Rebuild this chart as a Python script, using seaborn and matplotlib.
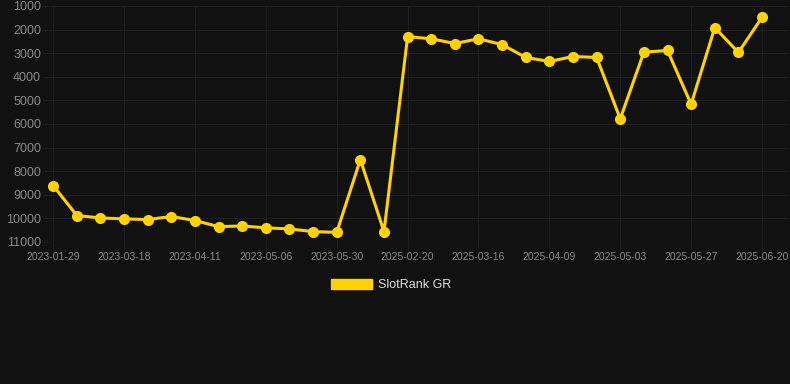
import matplotlib
matplotlib.use("Agg")
import matplotlib.pyplot as plt
from matplotlib.patches import Patch
import seaborn as sns
import pandas as pd

dates = ["2023-01-29", "2023-02-13", "2023-03-03", "2023-03-18", "2023-03-26", "2023-04-03",
         "2023-04-11", "2023-04-19", "2023-04-27", "2023-05-06", "2023-05-14", "2023-05-22",
         "2023-05-30", "2023-06-07", "2025-02-12", "2025-02-20", "2025-02-28", "2025-03-08",
         "2025-03-16", "2025-03-24", "2025-04-01", "2025-04-09", "2025-04-17", "2025-04-25",
         "2025-05-03", "2025-05-11", "2025-05-19", "2025-05-27", "2025-06-04", "2025-06-12",
         "2025-06-20"]
ranks = [8610, 9880, 9980, 10020, 10050, 9920, 10090, 10350, 10320, 10400, 10445, 10560,
         10590, 7510, 10560, 2295, 2390, 2590, 2390, 2635, 3180, 3350, 3140, 3180,
         5780, 2955, 2885, 5165, 1915, 2970, 1480]
series_name = "SlotRank GR"
y_ticks = [1000, 2000, 3000, 4000, 5000, 6000, 7000, 8000, 9000, 10000, 11000]

bg = "#111111"
grid = "#1f1f1f"
gold = "#FFD200"

sns.set_theme(style="dark")
plt.rcParams['font.family'] = ['Liberation Sans', 'DejaVu Sans']

df = pd.DataFrame({"idx": range(len(dates)), "date": dates, "rank": ranks})

fig = plt.figure(figsize=(7.9, 3.84), dpi=100, facecolor=bg)
ax = fig.add_axes([48/790, 1 - 242/384, (788 - 48)/790, (242 - 6)/384])
ax.set_facecolor(bg)

sns.lineplot(data=df, x="idx", y="rank", ax=ax, color=gold, linewidth=2.2,
             marker="o", markersize=8, markeredgecolor=gold, markeredgewidth=0,
             legend=False, zorder=3)

ax.set_ylim(11000, 1000)
ax.set_xlim(-0.22, 31.1)
ax.set_yticks(y_ticks)
ax.set_yticklabels([str(v) for v in y_ticks])
xt = list(range(0, len(dates), 3))
ax.set_xticks(xt)
ax.set_xticklabels([dates[i] for i in xt])

ax.grid(True, color=grid, linewidth=0.8)
for s in ax.spines.values():
    s.set_visible(False)
ax.tick_params(axis="y", colors=grid, labelcolor="#8a8a8a", labelsize=9,
               length=3.5, width=0.8, pad=1.5, left=True)
ax.tick_params(axis="x", colors=grid, labelcolor="#8a8a8a", labelsize=7.5,
               length=5, width=0.8, pad=2, bottom=True)
ax.set_xlabel("")
ax.set_ylabel("")

handles = [Patch(facecolor=gold, edgecolor=gold, label=series_name)]
leg = fig.legend(handles=handles, loc="center", bbox_to_anchor=(391/790, 1 - 285/384),
                 frameon=False, fontsize=9, handlelength=3.3, handleheight=0.9,
                 handletextpad=0.5, labelcolor="#dddddd")

fig.savefig("out.png", dpi=100, facecolor=bg)
